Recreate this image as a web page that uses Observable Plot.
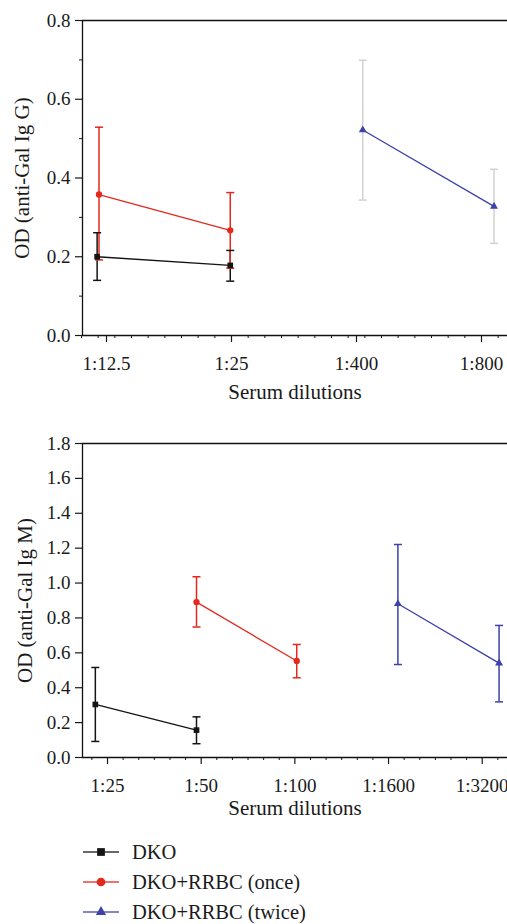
<!DOCTYPE html>
<html>
<head>
<meta charset="utf-8">
<script src="https://cdn.jsdelivr.net/npm/d3@7"></script>
<script src="https://cdn.jsdelivr.net/npm/@observablehq/plot@0.6"></script>
<style>
  html, body { margin: 0; padding: 0; background: #fff; }
  body { width: 507px; font-family: "Liberation Serif", "Times New Roman", "DejaVu Serif", serif; }
  #legend { padding-top: 17px; padding-left: 83px; }
  .row { height: 30px; display: flex; align-items: center; font-size: 20.5px; color: #1a1a1a; font-family: "Liberation Serif", "Times New Roman", serif; }
  .row svg { margin-right: 13px; }
</style>
</head>
<body>
<div id="top"></div>
<div id="bottom"></div>
<div id="legend"></div>
<script>
// ---- data ----
const seriesNames = ["DKO", "DKO+RRBC (once)", "DKO+RRBC (twice)"];
const seriesColors = ["#141414", "#e3281e", "#3d41a8"];
const seriesSymbols = ["square", "circle", "triangle"];

// Panel A: anti-Gal IgG
const igGTickLabels = ["1:12.5", "1:25", "1:400", "1:800"];
const igGGroup = [0, 0, 1, 1, 2, 2];
const igGPos   = [0.925, 1.99, 0.94, 1.99, 3.05, 4.10];
const igGMean  = [0.200, 0.178, 0.358, 0.267, 0.522, 0.328];
const igGLow   = [0.140, 0.138, 0.192, 0.171, 0.344, 0.234];
const igGHigh  = [0.261, 0.216, 0.529, 0.363, 0.699, 0.422];

// Panel B: anti-Gal IgM
const igMTickLabels = ["1:25", "1:50", "1:100", "1:1600", "1:3200"];
const igMGroup = [0, 0, 1, 1, 2, 2];
const igMPos   = [0.87, 1.95, 1.95, 3.02, 4.10, 5.18];
const igMMean  = [0.304, 0.157, 0.891, 0.553, 0.881, 0.541];
const igMLow   = [0.092, 0.079, 0.748, 0.457, 0.533, 0.319];
const igMHigh  = [0.516, 0.233, 1.036, 0.648, 1.221, 0.757];

const FONT = "'Liberation Serif', 'Times New Roman', 'DejaVu Serif', serif";
const TICK_FS = 19;
const TITLE_FS = 21;
const capSymbol = { draw(ctx) { ctx.moveTo(-4, 0); ctx.lineTo(4, 0); } };

function panel(o) {
  const rows = o.pos.map((p, i) => ({
    x: p, y: o.mean[i], lo: o.low[i], hi: o.high[i], g: o.group[i]
  }));
  const tickPos = o.tickLabels.map((_, i) => i + 1);
  const minor = d3.range(o.minorStart, o.xDomain[1], o.minorStep).filter(v => !tickPos.some(t => Math.abs(t - v) < 1e-6));
  const yMajor = d3.range(0, o.yMax + 1e-9, 0.2);
  const errColor = d => o.errColors[d.g];
  const marks = [
    Plot.ruleY([o.yMax], { stroke: "#111", strokeWidth: 1.3 }),
    Plot.ruleX([o.xDomain[0]], { stroke: "#111", strokeWidth: 1.3 }),
    Plot.axisY(yMajor, { tickSize: 7, tickPadding: 5, tickFormat: d3.format(".1f"), label: null, strokeWidth: 1.2, fontFamily: FONT, fontSize: TICK_FS }),
    Plot.axisX(tickPos, { tickSize: 7, tickPadding: 14, tickFormat: d => o.tickLabels[d - 1], label: null, strokeWidth: 1.2, fontFamily: FONT, fontSize: TICK_FS }),
    Plot.axisX(minor, { tickSize: 3, tickFormat: () => "", label: null, strokeWidth: 1 }),
    Plot.ruleY([0], { stroke: "#111", strokeWidth: 1.3 }),
  ];
  if (o.yMinor) marks.push(Plot.axisY(o.yMinor, { tickSize: 3, tickFormat: () => "", label: null, strokeWidth: 1 }));
  marks.push(
    Plot.ruleX(rows, { x: "x", y1: "lo", y2: "hi", stroke: errColor, strokeWidth: 1.5 }),
    Plot.dot(rows, { x: "x", y: "lo", symbol: capSymbol, stroke: errColor, strokeWidth: 1.5, r: 4 }),
    Plot.dot(rows, { x: "x", y: "hi", symbol: capSymbol, stroke: errColor, strokeWidth: 1.5, r: 4 }),
    Plot.line(rows, { x: "x", y: "y", z: "g", stroke: d => seriesColors[d.g], strokeWidth: 1.3 }),
    Plot.dot(rows, { x: "x", y: "y", fill: d => seriesColors[d.g], symbol: d => seriesSymbols[d.g],
                     r: d => d.g === 2 ? 3.8 : (d.g === 0 ? 4.5 : 4.4), stroke: "none" }),
    Plot.text([o.xLabel], { text: d => d, frameAnchor: "bottom", lineAnchor: "middle", textAnchor: "middle", dy: o.xLabelDy, fill: "#1a1a1a", fontFamily: FONT, fontSize: TITLE_FS }),
    Plot.text([o.yLabel], { text: d => d, frameAnchor: "left", lineAnchor: "middle", textAnchor: "middle", rotate: -90, dx: o.yLabelDx, fill: "#1a1a1a", fontFamily: FONT, fontSize: TITLE_FS })
  );
  return Plot.plot({
    width: 507,
    height: o.height,
    marginLeft: 82,
    marginRight: 0,
    marginTop: o.marginTop,
    marginBottom: o.marginBottom,
    x: { domain: o.xDomain },
    y: { domain: [0, o.yMax] },
    symbol: { type: "identity" },
    style: { fontFamily: FONT, fontSize: TICK_FS + "px", color: "#1a1a1a", background: "white", overflow: "visible" },
    marks
  });
}

document.getElementById("top").append(panel({
  tickLabels: igGTickLabels, group: igGGroup, pos: igGPos, mean: igGMean, low: igGLow, high: igGHigh,
  yMax: 0.8, yMinor: [0.1, 0.3, 0.5, 0.7],
  xDomain: [0.808, 4.208], minorStart: 0.8, minorStep: 2 / 15,
  errColors: ["#141414", "#e3281e", "#d2d2d2"],
  height: 410, marginTop: 20, marginBottom: 75,
  xLabel: "Serum dilutions", xLabelDy: 57,
  yLabel: "OD (anti-Gal Ig G)", yLabelDx: -60
}));

document.getElementById("bottom").append(panel({
  tickLabels: igMTickLabels, group: igMGroup, pos: igMPos, mean: igMMean, low: igMLow, high: igMHigh,
  yMax: 1.8, yMinor: null,
  xDomain: [0.733, 5.27], minorStart: 0.8333333, minorStep: 1 / 6,
  errColors: seriesColors,
  height: 410, marginTop: 33, marginBottom: 63,
  xLabel: "Serum dilutions", xLabelDy: 51,
  yLabel: "OD (anti-Gal Ig M)", yLabelDx: -57
}));

// legend
const legend = d3.select("#legend");
seriesNames.forEach((name, i) => {
  const row = legend.append("div").attr("class", "row");
  const svg = row.append("svg").attr("width", 36).attr("height", 14);
  svg.append("line").attr("x1", 0).attr("x2", 36).attr("y1", 7).attr("y2", 7)
     .attr("stroke", seriesColors[i]).attr("stroke-width", 1.5).attr("opacity", 0.85);
  const sym = { square: d3.symbolSquare, circle: d3.symbolCircle, triangle: d3.symbolTriangle }[seriesSymbols[i]];
  svg.append("path").attr("d", d3.symbol(sym, i === 2 ? 45 : 60)()).attr("transform", "translate(18,7)")
     .attr("fill", seriesColors[i]);
  row.append("span").text(name);
});
</script>
</body>
</html>
